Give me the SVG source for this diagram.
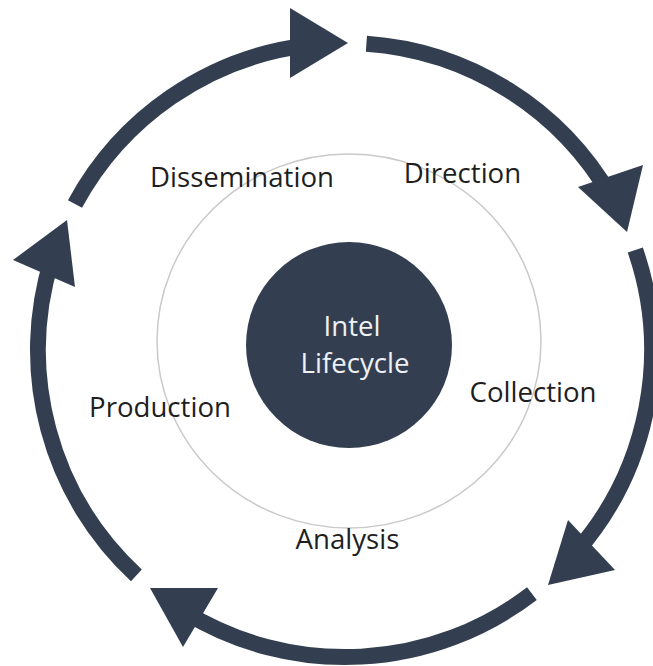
<svg xmlns="http://www.w3.org/2000/svg" width="653" height="666" viewBox="0 0 653 666">
<style>
.seg{fill:none;stroke:#333f50;stroke-width:16;stroke-linecap:butt}
.head{fill:#333f50}
.lbl{font-family:"Open Sans","Noto Sans",sans-serif;font-size:27.6px;fill:#1e1e1e;text-anchor:middle}
.ctr{font-family:"Open Sans","Noto Sans",sans-serif;font-size:27.6px;fill:#eef0f3;text-anchor:middle}
</style>
<rect width="653" height="666" fill="#ffffff"/>
<g id="guide">
<ellipse cx="349" cy="341" rx="192" ry="187" fill="none" stroke="#c9c9c9" stroke-width="1.5"/>
</g>
<g id="connectors">
<path class="seg" d="M366.4,43.7 A307,307 0 0 1 610.9,196.5"/>
<polygon class="head" points="643,165 578,187 627,232"/>
<path class="seg" d="M635.3,250 A307,307 0 0 1 576.7,551.4"/>
<polygon class="head" points="568,520 615,570 548,585"/>
<path class="seg" d="M531.9,593.6 A307,307 0 0 1 185,612.1"/>
<polygon class="head" points="218,588 183,647 150,588"/>
<path class="seg" d="M136.4,575.3 A307,307 0 0 1 51.9,258.7"/>
<polygon class="head" points="13,260 75,287 67,220"/>
<path class="seg" d="M75,204 A307,307 0 0 1 306.5,45.4"/>
<polygon class="head" points="290,8 290,78 348,43"/>
</g>
<g id="center">
<circle cx="349" cy="345" r="103" fill="#333f50"/>
<text class="ctr" x="352" y="336">Intel</text>
<text class="ctr" x="355" y="373">Lifecycle</text>
</g>
<g id="direction"><text class="lbl" x="462.5" y="183">Direction</text></g>
<g id="collection"><text class="lbl" x="533" y="402">Collection</text></g>
<g id="analysis"><text class="lbl" x="347.5" y="549">Analysis</text></g>
<g id="production"><text class="lbl" x="160" y="417">Production</text></g>
<g id="dissemination"><text class="lbl" x="242" y="187">Dissemination</text></g>
</svg>
